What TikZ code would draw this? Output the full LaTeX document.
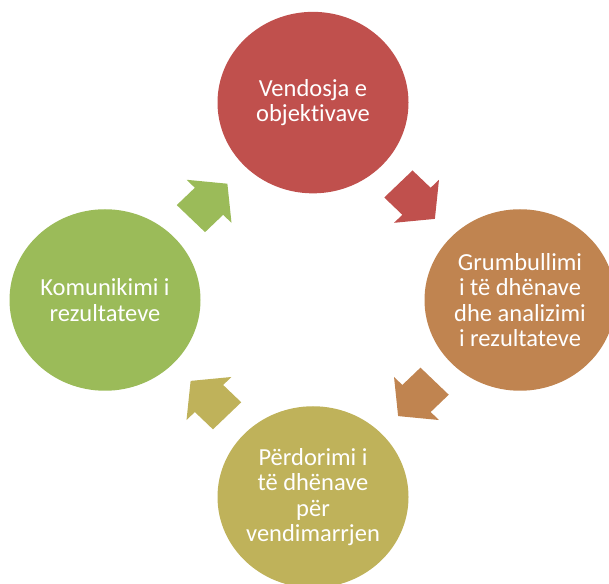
\documentclass[tikz,border=0pt]{standalone}
\usepackage{fontspec}
\setmainfont[Ligatures=NoCommon]{Carlito}
\usetikzlibrary{shapes.geometric,calc}
\definecolor{stagered}{HTML}{C0504D}
\definecolor{stageorange}{HTML}{C08450}
\definecolor{stageolive}{HTML}{BFB25A}
\definecolor{stagegreen}{HTML}{9BBB59}

\begin{document}
\begin{tikzpicture}[x=1pt,y=1pt,
  stage/.style={ellipse,inner sep=0pt,minimum width=191pt,minimum height=181.5pt,
    text=white,align=center,font=\fontsize{24.5}{25.5}\selectfont}]
\useasboundingbox (0,0) rectangle (609,583);
\clip (0,0) rectangle (609,583);

\node[stage,fill=stagered] (goal) at (313,480.4) {Vendosja e\\objektivave};
\node[stage,fill=stageorange] (data) at (520,283) {Grumbullimi\\i të dhënave\\dhe analizimi\\i rezultateve};
\node[stage,fill=stageolive] (use) at (313,86) {Përdorimi i\\të dhënave\\për\\vendimarrjen};
\node[stage,fill=stagegreen] (talk) at (105,283) {Komunikimi i\\rezultateve};

% block arrows between the stages
\fill[stagered,shift={($(goal)!0.5!(data)$)},yscale=0.957,rotate=-45]
  (-25.6,-20) -- (0,-20) -- (0,-31.8) -- (26,0) -- (0,31.8) -- (0,20) -- (-25.6,20) -- cycle;
\fill[stageorange,shift={($(data)!0.5!(use)$)},yscale=0.957,rotate=-135]
  (-25.6,-20) -- (0,-20) -- (0,-31.8) -- (26,0) -- (0,31.8) -- (0,20) -- (-25.6,20) -- cycle;
\fill[stageolive,shift={($(use)!0.5!(talk)$)},yscale=0.957,rotate=135]
  (-25.6,-20) -- (0,-20) -- (0,-31.8) -- (26,0) -- (0,31.8) -- (0,20) -- (-25.6,20) -- cycle;
\fill[stagegreen,shift={($(talk)!0.5!(goal)$)},yscale=0.957,rotate=45]
  (-25.6,-20) -- (0,-20) -- (0,-31.8) -- (26,0) -- (0,31.8) -- (0,20) -- (-25.6,20) -- cycle;
\end{tikzpicture}
\end{document}
